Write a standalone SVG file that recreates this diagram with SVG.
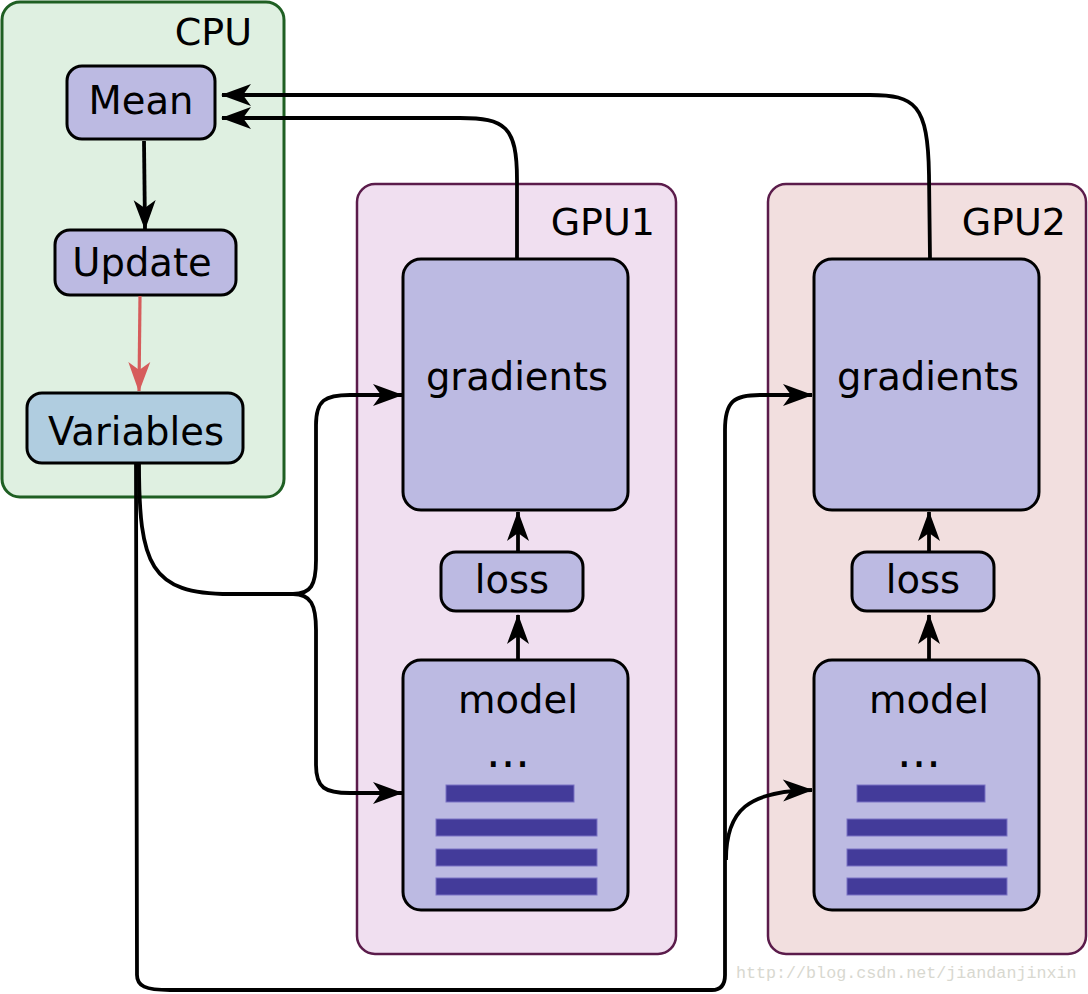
<svg xmlns="http://www.w3.org/2000/svg" width="1088" height="994" viewBox="0 0 1088 994">
<style>
text{font-family:"DejaVu Sans","Liberation Sans",sans-serif;fill:#000}
.lbl{font-size:38.5px;text-anchor:middle}
.hd{font-size:38px;text-anchor:end}
.dots{font-size:46px;text-anchor:middle}
.node{fill:#bcbae2;stroke:#000;stroke-width:3}
.var{fill:#b0cde0;stroke:#000;stroke-width:3}
.bar{fill:#433b9a;stroke:#7a73c4;stroke-width:1}
.c{fill:none;stroke:#000;stroke-width:3.8;stroke-linecap:butt}
.a{marker-end:url(#ah)}
.r{fill:none;stroke:#d65c5c;stroke-width:3.2;marker-end:url(#ahr)}
.wm{font-family:"Liberation Mono","DejaVu Sans Mono",monospace;font-size:16.7px;fill:#d8d8d0}
</style>
<defs>
<marker id="ah" viewBox="-32 -13 34 26" refX="0" refY="0" markerWidth="34" markerHeight="26" markerUnits="userSpaceOnUse" orient="auto">
<path d="M1,0 L-29,-11 L-21,0 L-29,11 Z" fill="#000"/>
</marker>
<marker id="ahr" viewBox="-32 -13 34 26" refX="0" refY="0" markerWidth="34" markerHeight="26" markerUnits="userSpaceOnUse" orient="auto">
<path d="M1,0 L-29,-11 L-21,0 L-29,11 Z" fill="#d65c5c"/>
</marker>
</defs>
<rect width="1088" height="994" fill="#fff"/>

<g id="cpu">
<rect x="2" y="2" width="282" height="495" rx="18" fill="#dff0e1" stroke="#1f5f23" stroke-width="3"/>
<text class="hd" x="252" y="45">CPU</text>
</g>
<g id="gpu1">
<rect x="357" y="184" width="319" height="770" rx="18" fill="#f0dff0" stroke="#5b1c4b" stroke-width="2.5"/>
<text class="hd" x="655" y="235">GPU1</text>
</g>
<g id="gpu2">
<rect x="768" y="184" width="318" height="770" rx="18" fill="#f2dfdf" stroke="#5b1c4b" stroke-width="2.5"/>
<text class="hd" x="1066" y="235">GPU2</text>
</g>

<g id="mean">
<rect class="node" x="67" y="66" width="148" height="73" rx="15"/>
<text class="lbl" x="141" y="114">Mean</text>
</g>
<g id="update">
<rect class="node" x="55" y="230" width="181" height="65" rx="15"/>
<text class="lbl" x="142" y="276">Update</text>
</g>
<g id="variables">
<rect class="var" x="27" y="393" width="216" height="70" rx="15"/>
<text class="lbl" x="136" y="445">Variables</text>
</g>

<g id="gradients1">
<rect class="node" x="403" y="259" width="225" height="251" rx="18"/>
<text class="lbl" x="517" y="390">gradients</text>
</g>
<g id="loss1">
<rect class="node" x="441" y="552" width="142" height="59" rx="15"/>
<text class="lbl" x="512" y="593">loss</text>
</g>
<g id="model1">
<rect class="node" x="403" y="660" width="225" height="250" rx="18"/>
<text class="lbl" x="518" y="713">model</text>
<text class="dots" x="508" y="767">...</text>
<rect class="bar" x="446" y="785" width="128" height="17"/>
<rect class="bar" x="436" y="819" width="161" height="17"/>
<rect class="bar" x="436" y="849" width="161" height="17"/>
<rect class="bar" x="436" y="878" width="161" height="17"/>
</g>

<g id="gradients2">
<rect class="node" x="814" y="259" width="225" height="251" rx="18"/>
<text class="lbl" x="928" y="390">gradients</text>
</g>
<g id="loss2">
<rect class="node" x="852" y="552" width="142" height="59" rx="15"/>
<text class="lbl" x="923" y="593">loss</text>
</g>
<g id="model2">
<rect class="node" x="814" y="660" width="225" height="250" rx="18"/>
<text class="lbl" x="929" y="713">model</text>
<text class="dots" x="919" y="767">...</text>
<rect class="bar" x="857" y="785" width="128" height="17"/>
<rect class="bar" x="847" y="819" width="160" height="17"/>
<rect class="bar" x="847" y="849" width="160" height="17"/>
<rect class="bar" x="847" y="878" width="160" height="17"/>
</g>

<g id="connectors">
<path class="c a" d="M144,141 L145,229"/>
<path class="r" d="M140,296 L139,391"/>
<path class="c a" d="M517,259 L517,180 C517,126 505,118 460,118 L222,118"/>
<path class="c a" d="M930,259 L929,175 C928,104 915,95 870,95 L222,95"/>
<path class="c a" d="M518,552 L518,512"/>
<path class="c a" d="M518,660 L518,615"/>
<path class="c a" d="M929,552 L929,512"/>
<path class="c a" d="M929,660 L929,615"/>
<path class="c a" d="M139,463 C139,565 150,594 230,594 L293,594 C311,594 316,585 316,560 L316,425 C316,400 325,395 350,395 L402,395"/>
<path class="c a" d="M293,594 C311,594 316,605 316,630 L316,765 C316,788 325,793 350,793 L402,793"/>
<path class="c" d="M136,463 L137,975 C137,986 145,990 170,990 L712,990 C721,990 725,985 725,975 L725,430 C725,401 734,395 760,395"/>
<path class="c a" d="M760,395 L812,395"/>
<path class="c a" d="M726,860 C726,810 748,791 812,790"/>
</g>
<text class="wm" x="736" y="978">http://blog.csdn.net/jiandanjinxin</text>
</svg>
